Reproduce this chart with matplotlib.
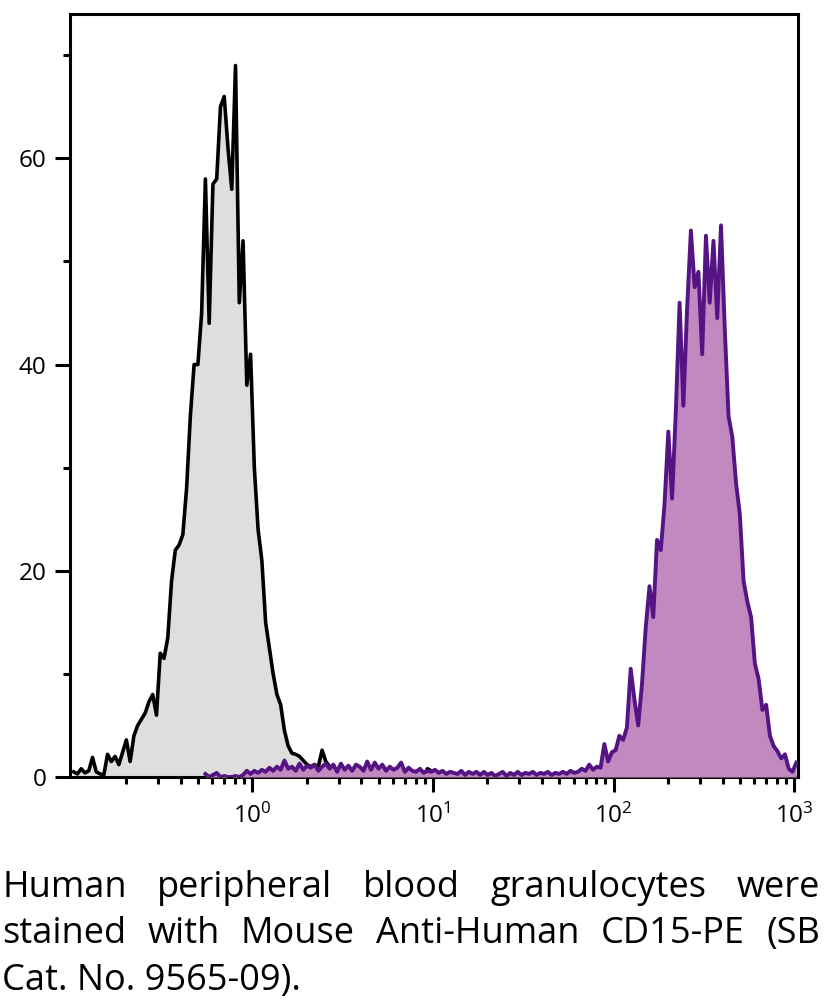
import numpy as np
import matplotlib.pyplot as plt
from matplotlib.ticker import FixedLocator, NullFormatter

plt.rcParams['font.family'] = ['Open Sans', 'DejaVu Sans']
plt.rcParams['mathtext.fontset'] = 'custom'
plt.rcParams['mathtext.rm'] = 'Open Sans'

# histogram channels: 48 per decade, starting at 10^-1
channels_per_decade = 48
log_start = -1.0

# isotype control (grey), channels 0..100
grey_counts = [0.5, 0.3, 0.8, 0.4, 0.6, 1.9, 0.5, 0.3, 0.2, 2.2,
               1.5, 2.0, 1.2, 2.4, 3.6, 1.5, 4.0, 5.0, 5.6, 6.2,
               7.3, 8.0, 6.0, 12.0, 11.5, 13.5, 19.0, 22.0, 22.5, 23.5,
               28.0, 35.0, 40.0, 40.0, 45.0, 58.0, 44.0, 57.5, 58.0, 65.0,
               66.0, 61.0, 57.0, 69.0, 46.0, 52.0, 38.0, 41.0, 30.0, 24.0,
               21.0, 15.0, 12.5, 10.0, 8.0, 7.0, 4.5, 3.0, 2.3, 2.2,
               2.0, 1.6, 1.2, 1.0, 1.2, 1.0, 2.6, 1.5, 1.0, 0.6,
               0.5, 0.4, 0.6, 0.3, 0.5, 0.3, 0.2, 0.4, 0.2, 0.3,
               0.2, 0.3, 0.1, 0.7, 0.2, 0.3, 0.1, 0.2, 0.1, 0.2,
               0.1, 0.2, 0.1, 0.1, 0.8, 0.6, 0.1, 0.0, 0.0, 0.0, 0.0]

# CD15-PE stained (purple), channels 35..192
purple_first = 35
purple_counts = [0.3, 0.0, 0.2, 0.4, 0.0, 0.1, 0.0, 0.0, 0.1, 0.0,
                 0.2, 0.6, 0.3, 0.6, 0.4, 0.7, 0.5, 0.9, 0.6, 1.0,
                 0.7, 1.6, 0.8, 1.0, 0.6, 1.3, 0.7, 1.1, 0.9, 1.2,
                 0.6, 1.0, 1.3, 0.8, 1.2, 0.5, 1.3, 0.7, 1.1, 0.6,
                 1.2, 1.0, 0.6, 1.5, 0.7, 1.4, 0.8, 1.2, 0.6, 1.0,
                 0.7, 0.9, 1.4, 0.5, 0.9, 0.6, 0.5, 0.8, 0.4, 0.6,
                 0.5, 0.7, 0.4, 0.6, 0.3, 0.5, 0.4, 0.3, 0.6, 0.2,
                 0.5, 0.3, 0.5, 0.2, 0.5, 0.2, 0.4, 0.1, 0.3, 0.5,
                 0.1, 0.4, 0.2, 0.5, 0.2, 0.4, 0.3, 0.5, 0.2, 0.4,
                 0.3, 0.5, 0.2, 0.4, 0.3, 0.5, 0.3, 0.6, 0.4, 0.5,
                 0.8, 0.6, 1.2, 0.7, 1.0, 0.9, 3.2, 1.5, 2.4, 2.6,
                 4.0, 3.6, 4.8, 10.5, 7.5, 5.0, 9.0, 14.5, 18.5, 15.5,
                 23.0, 22.0, 26.5, 33.5, 27.0, 35.5, 46.0, 36.0, 45.5, 53.0,
                 47.5, 49.0, 41.0, 52.5, 46.0, 52.0, 44.5, 53.5, 43.5, 35.0,
                 33.0, 28.5, 25.5, 19.0, 17.0, 15.5, 11.0, 9.5, 6.5, 7.0,
                 4.0, 3.0, 2.5, 1.8, 2.2, 0.8, 0.5, 1.4]

y_ticks = [0, 20, 40, 60]
y_minor = [10, 30, 50, 70]
x_decades = [0, 1, 2, 3]

caption_lines = ['Human peripheral blood granulocytes were',
                 'stained with Mouse Anti-Human CD15-PE (SB',
                 'Cat. No. 9565-09).']


def channel_x(first, n):
    k = np.arange(first, first + n) + 0.5
    return 10 ** (log_start + k / channels_per_decade)


fig = plt.figure(figsize=(8.3, 10.07), dpi=100)
ax = fig.add_axes([70 / 830, 1 - 777 / 1007, 728 / 830, 763 / 1007])

gx = channel_x(0, len(grey_counts))
ax.fill_between(gx, 0, grey_counts, color='#dedede', linewidth=0, zorder=1)
ax.plot(gx, grey_counts, color='black', linewidth=2.6, zorder=2)

px = channel_x(purple_first, len(purple_counts))
ax.fill_between(px, 0, purple_counts, color='#c08ac0', linewidth=0, zorder=3)
ax.plot(px, purple_counts, color='#541483', linewidth=2.8, zorder=4)

ax.set_xscale('log')
ax.set_xlim(10 ** -1.01, 10 ** 3.02)
ax.set_ylim(0, 74)

ax.xaxis.set_major_locator(FixedLocator([10.0 ** d for d in x_decades]))
minor = [m * 10.0 ** d for d in range(-1, 3) for m in range(2, 10)]
ax.xaxis.set_minor_locator(FixedLocator(minor))
ax.xaxis.set_minor_formatter(NullFormatter())
ax.set_xticklabels([r'$\mathregular{10^{%d}}$' % d for d in x_decades])

ax.set_yticks(y_ticks)
ax.set_yticks(y_minor, minor=True)

for s in ax.spines.values():
    s.set_linewidth(2.2)
ax.tick_params(which='major', length=11, width=2.2, labelsize=17.5, pad=6)
ax.tick_params(which='minor', length=5, width=2.2)
ax.tick_params(axis='x', which='major', pad=8)

# justified caption below the plot
fig.canvas.draw()
renderer = fig.canvas.get_renderer()
fig_w = fig.get_figwidth() * fig.dpi
left, right = 2 / 830, 820 / 830
baselines = [897, 943, 990]
for i, line in enumerate(caption_lines):
    yb = 1 - baselines[i] / 1007
    words = line.split()
    if i == len(caption_lines) - 1:
        fig.text(left, yb, line, fontsize=26, va='baseline')
        continue
    texts = [fig.text(0, yb, w, fontsize=26, va='baseline') for w in words]
    widths = [t.get_window_extent(renderer).width / fig_w for t in texts]
    gap = (right - left - sum(widths)) / (len(words) - 1)
    pos = left
    for t, w in zip(texts, widths):
        t.set_x(pos)
        pos += w + gap

fig.savefig('out.png', dpi=100)
